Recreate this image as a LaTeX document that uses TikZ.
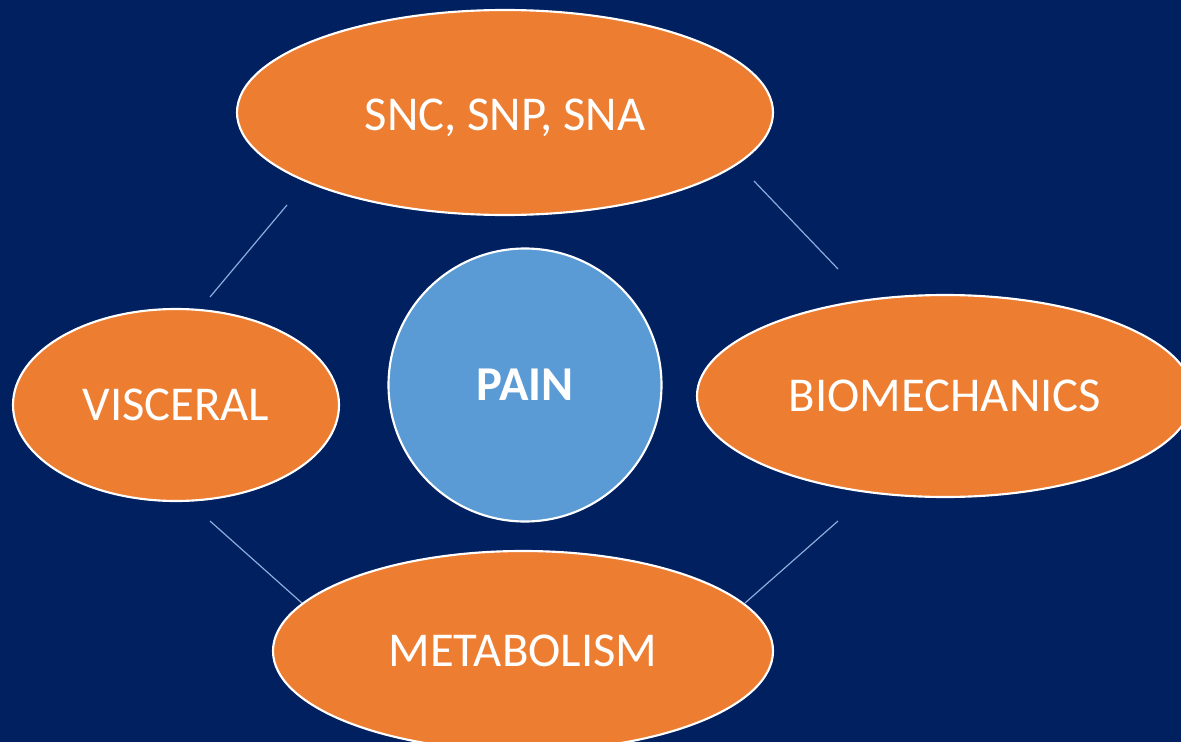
\documentclass[tikz,border=0pt]{standalone}
\usepackage{fontspec}
\setmainfont{Carlito}
\usetikzlibrary{shapes.geometric}
\definecolor{navy}{HTML}{002060}
\definecolor{orangefill}{HTML}{ED7D31}
\definecolor{bluefill}{HTML}{5B9BD5}
\definecolor{linkcol}{HTML}{8FAADC}
\tikzset{
  oval/.style={ellipse, draw=white, line width=1.6pt, fill=orangefill, inner sep=0pt,
    text=white, text depth=0pt, font=\fontsize{36.5}{40}\selectfont},
  centre/.style={circle, draw=white, line width=1.6pt, fill=bluefill, inner sep=0pt,
    text=white, text depth=0pt, font=\fontsize{36.5}{40}\selectfont\bfseries},
  link/.style={draw=linkcol, line width=0.9pt}
}
\begin{document}
\begin{tikzpicture}[x=0.75pt,y=-0.75pt]
\fill[navy] (0,0) rectangle (1181,742);
\useasboundingbox (0,0) rectangle (1181,742);
% free-floating link lines
\coordinate (l1a) at (210,297); \coordinate (l1b) at (287,205);
\coordinate (l2a) at (754,181); \coordinate (l2b) at (838,269);
\coordinate (l3a) at (210,521); \coordinate (l3b) at (303,604);
\coordinate (l4a) at (838,521); \coordinate (l4b) at (745,603);
\draw[link] (l1a) -- (l1b);
\draw[link] (l2a) -- (l2b);
\draw[link] (l3a) -- (l3b);
\draw[link] (l4a) -- (l4b);
% nodes
\node[oval, minimum width=536*0.75pt, minimum height=205*0.75pt] (top) at (505,112.5) {};
\node at (top.center) [text=white, font=\fontsize{36.5}{40}\selectfont, text depth=0pt, inner sep=0pt, yshift=-1.5pt] (toplabel) {SNC, SNP, SNA};
\node[oval, minimum width=496*0.75pt, minimum height=202*0.75pt] (right) at (945,396) {BIOMECHANICS};
\node[oval, minimum width=326*0.75pt, minimum height=192*0.75pt] (left) at (176,405) {VISCERAL};
\node[oval, minimum width=500*0.75pt, minimum height=200*0.75pt] (bottom) at (523,651) {METABOLISM};
\node[centre, minimum size=273*0.75pt] (pain) at (525,385) {PAIN};
\end{tikzpicture}
\end{document}
